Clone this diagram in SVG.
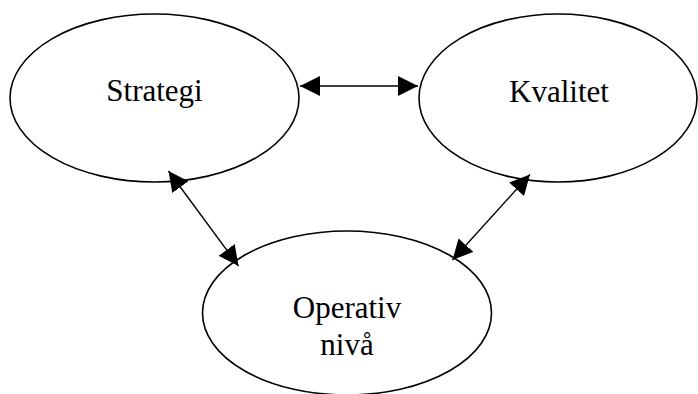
<svg xmlns="http://www.w3.org/2000/svg" width="698" height="394" viewBox="0 0 698 394">
<style>
.node ellipse{fill:#fff;stroke:#000;stroke-width:1.6}
.node text{font-family:"Liberation Serif","Times New Roman",serif;font-size:31px;fill:#000;text-anchor:middle}
.conn line{stroke:#000;stroke-width:1.4;marker-start:url(#ah);marker-end:url(#ah)}
</style>
<defs>
<marker id="ah" markerUnits="userSpaceOnUse" markerWidth="20" markerHeight="20" viewBox="0 0 20 20" refX="20" refY="10" orient="auto-start-reverse">
<path d="M0,0 L20,10 L0,20 z" fill="#000"/>
</marker>
</defs>
<rect width="698" height="394" fill="#fff"/>
<g id="strategi" class="node">
<ellipse cx="154.5" cy="98" rx="144.5" ry="84"/>
<text x="154.5" y="101">Strategi</text>
</g>
<g id="kvalitet" class="node">
<ellipse cx="558" cy="98" rx="139" ry="84"/>
<text x="559" y="101.5">Kvalitet</text>
</g>
<g id="operativ" class="node">
<ellipse cx="347" cy="313" rx="144.5" ry="82"/>
<text x="347" y="317.5">Operativ</text>
<text x="347" y="354.5">nivå</text>
</g>
<g id="connectors" class="conn">
<line x1="300" y1="86" x2="418" y2="86"/>
<line x1="168.5" y1="171" x2="238.5" y2="266"/>
<line x1="530" y1="174.5" x2="452.5" y2="260"/>
</g>
</svg>
